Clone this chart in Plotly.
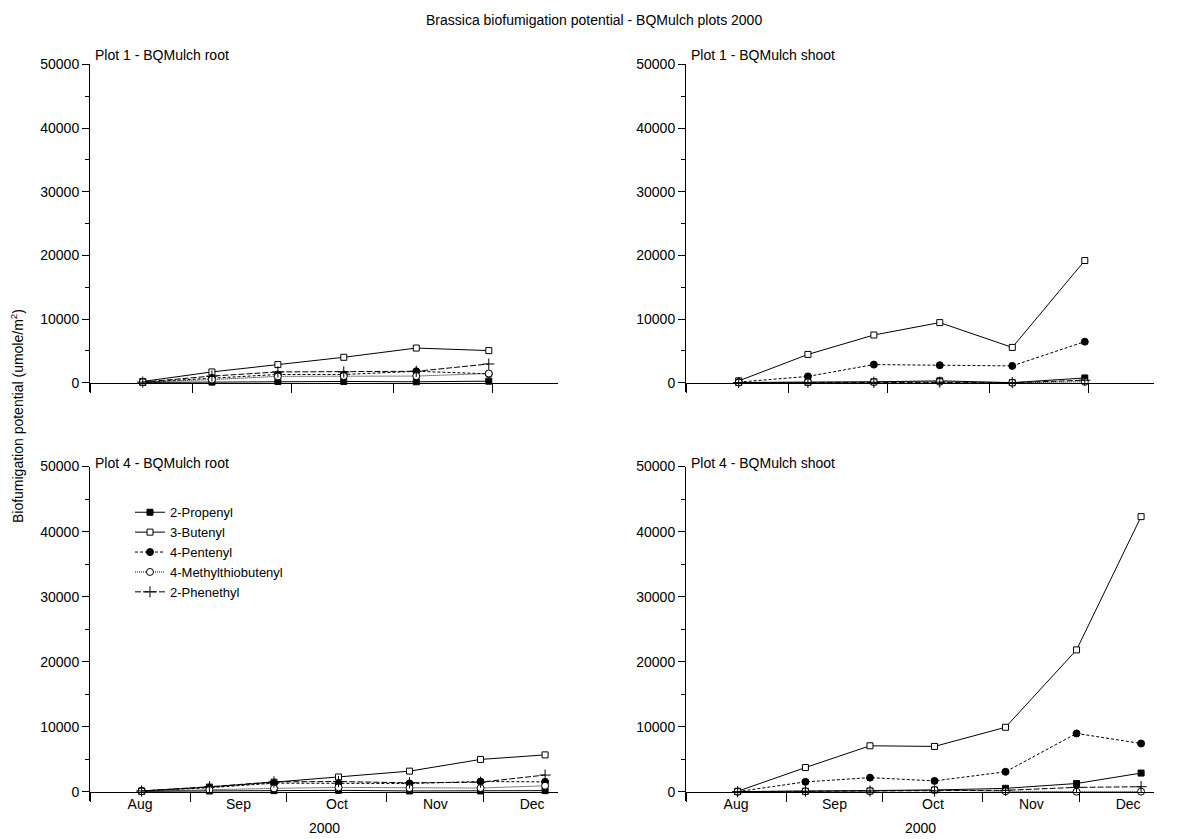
import plotly.graph_objects as go

# ---------------- data ----------------
series_names = ["2-Propenyl", "3-Butenyl", "4-Pentenyl", "4-Methylthiobutenyl", "2-Phenethyl"]

dates_top = ["2000-08-17", "2000-09-07", "2000-09-27", "2000-10-17", "2000-11-08", "2000-11-30"]
dates_bot = ["2000-08-17", "2000-09-07", "2000-09-27", "2000-10-17", "2000-11-08", "2000-11-30", "2000-12-20"]

# Plot 1 - BQMulch root
p1_root_propenyl = [50, 100, 200, 200, 150, 250]
p1_root_butenyl = [200, 1700, 2850, 4000, 5450, 5050]
p1_root_pentenyl = [100, 700, 1300, 1300, 1800, 1400]
p1_root_mtb = [100, 500, 1000, 1050, 1050, 1450]
p1_root_phenethyl = [100, 1050, 1700, 1700, 1800, 2950]

# Plot 1 - BQMulch shoot
p1_shoot_propenyl = [30, 60, 150, 300, 20, 750]
p1_shoot_butenyl = [300, 4450, 7500, 9450, 5550, 19200]
p1_shoot_pentenyl = [100, 1000, 2850, 2750, 2650, 6450]
p1_shoot_mtb = [50, 80, 100, 150, 0, 150]
p1_shoot_phenethyl = [30, 50, 80, 100, 20, 400]

# Plot 4 - BQMulch root
p4_root_propenyl = [50, 100, 150, 200, 100, 100, 150]
p4_root_butenyl = [100, 700, 1450, 2250, 3150, 4950, 5650]
p4_root_pentenyl = [100, 600, 1300, 1300, 1250, 1550, 1500]
p4_root_mtb = [50, 300, 500, 650, 550, 550, 900]
p4_root_phenethyl = [100, 750, 1500, 1550, 1350, 1450, 2550]

# Plot 4 - BQMulch shoot
p4_shoot_propenyl = [0, 50, 100, 250, 500, 1250, 2850]
p4_shoot_butenyl = [50, 3700, 7050, 6950, 9900, 21800, 42300]
p4_shoot_pentenyl = [0, 1500, 2150, 1650, 3050, 8950, 7400]
p4_shoot_mtb = [0, 50, 80, 250, 50, 0, 0]
p4_shoot_phenethyl = [0, 50, 100, 100, 200, 650, 750]

panel_titles = ["Plot 1 - BQMulch root", "Plot 1 - BQMulch shoot",
                "Plot 4 - BQMulch root", "Plot 4 - BQMulch shoot"]
y_tickvals = [0, 10000, 20000, 30000, 40000, 50000]
main_title = "Brassica biofumigation potential - BQMulch plots 2000"
y_title = "Biofumigation potential (umole/m<sup>2</sup>)"
x_title = "2000"

# ---------------- layout geometry ----------------
W, H = 1187, 839
FONT = "Liberation Sans, Arial, sans-serif"
Y_RANGE = [-1500, 50000]

dom_x_left = [90 / W, 558 / W]
dom_x_right = [686 / W, 1154 / W]
dom_y_top = [1 - 388 / H, 1 - 57 / H]
dom_y_bot = [1 - 801 / H, 1 - 463 / H]


def zero_pos(dom):
    return dom[0] + (0 - Y_RANGE[0]) / (Y_RANGE[1] - Y_RANGE[0]) * (dom[1] - dom[0])


styles = {
    "2-Propenyl": (dict(symbol="square", size=6, color="black", line=dict(color="black", width=1)), "solid"),
    "3-Butenyl": (dict(symbol="square", size=6, color="white", line=dict(color="black", width=1)), "solid"),
    "4-Pentenyl": (dict(symbol="circle", size=7, color="black", line=dict(color="black", width=1)), "3px,2px"),
    "4-Methylthiobutenyl": (dict(symbol="circle", size=7, color="white", line=dict(color="black", width=1)), "1px,1px"),
    "2-Phenethyl": (dict(symbol="cross-thin", size=8, color="black", line=dict(color="black", width=1)), "6px,2px"),
}

panels = [
    (dates_top, [p1_root_propenyl, p1_root_butenyl, p1_root_pentenyl, p1_root_mtb, p1_root_phenethyl], "x", "y", False),
    (dates_top, [p1_shoot_propenyl, p1_shoot_butenyl, p1_shoot_pentenyl, p1_shoot_mtb, p1_shoot_phenethyl], "x2", "y2", False),
    (dates_bot, [p4_root_propenyl, p4_root_butenyl, p4_root_pentenyl, p4_root_mtb, p4_root_phenethyl], "x3", "y3", True),
    (dates_bot, [p4_shoot_propenyl, p4_shoot_butenyl, p4_shoot_pentenyl, p4_shoot_mtb, p4_shoot_phenethyl], "x4", "y4", False),
]

fig = go.Figure()
for dates, vals, xa, ya, show in panels:
    for name, v in zip(series_names, vals):
        mk, dash = styles[name]
        fig.add_trace(go.Scatter(
            x=dates, y=v, mode="lines+markers", name=name, showlegend=show,
            xaxis=xa, yaxis=ya, marker=mk,
            line=dict(color="black", width=1, dash=dash),
        ))

axis_font = dict(family=FONT, size=14, color="black")


def xaxis_def(dom, ydom, rng, labels):
    return dict(
        domain=dom, anchor="free", position=zero_pos(ydom),
        type="date", range=rng, showgrid=False, zeroline=False,
        showline=True, linecolor="black", linewidth=1,
        ticks="outside", ticklen=9, tickwidth=1, tickcolor="black",
        dtick="M1", tick0="2000-08-01", tickformat="%b",
        ticklabelmode="period", showticklabels=labels,
        tickfont=axis_font, ticklabelstandoff=-9,
    )


def yaxis_def(dom, xref):
    return dict(
        domain=dom, anchor=xref, range=Y_RANGE, showgrid=False, zeroline=False,
        showline=True, linecolor="black", linewidth=1,
        ticks="outside", ticklen=7, tickwidth=1, tickcolor="black",
        tickvals=y_tickvals, tickformat="d", tickfont=axis_font,
        minor=dict(ticks="outside", ticklen=4, dtick=5000, tick0=0, tickcolor="black", showgrid=False),
    )


top_range = ["2000-08-01", "2000-12-21"]
bot_range = ["2000-08-01", "2000-12-24"]

fig.update_layout(
    width=W, height=H,
    paper_bgcolor="white", plot_bgcolor="white",
    margin=dict(l=0, r=0, t=0, b=0),
    font=dict(family=FONT, size=14, color="black"),
    xaxis=xaxis_def(dom_x_left, dom_y_top, top_range, False),
    xaxis2=xaxis_def(dom_x_right, dom_y_top, top_range, False),
    xaxis3=xaxis_def(dom_x_left, dom_y_bot, bot_range, True),
    xaxis4=xaxis_def(dom_x_right, dom_y_bot, bot_range, True),
    yaxis=yaxis_def(dom_y_top, "x"),
    yaxis2=yaxis_def(dom_y_top, "x2"),
    yaxis3=yaxis_def(dom_y_bot, "x3"),
    yaxis4=yaxis_def(dom_y_bot, "x4"),
    showlegend=True,
    legend=dict(x=130 / W, y=1 - 494 / H, xanchor="left", yanchor="top",
                bgcolor="rgba(0,0,0,0)", borderwidth=0,
                font=dict(family=FONT, size=13, color="black"), tracegroupgap=0),
)

ann = []
ann.append(dict(text=main_title, x=594 / W, y=1 - 12 / H, xref="paper", yref="paper",
                xanchor="center", yanchor="middle", showarrow=False, font=dict(size=14)))
title_pos = [(93, 47), (689, 47), (93, 459), (689, 459)]
for t, (px, py) in zip(panel_titles, title_pos):
    ann.append(dict(text=t, x=px / W, y=1 - py / H, xref="paper", yref="paper",
                    xanchor="left", yanchor="middle", showarrow=False, font=dict(size=14)))
ann.append(dict(text=y_title, x=17 / W, y=1 - 412 / H, xref="paper", yref="paper",
                xanchor="center", yanchor="middle", textangle=-90, showarrow=False, font=dict(size=14)))
for cx in (324, 920):
    ann.append(dict(text=x_title, x=cx / W, y=1 - 828 / H, xref="paper", yref="paper",
                    xanchor="center", yanchor="middle", showarrow=False, font=dict(size=14)))
fig.update_layout(annotations=ann)

fig.write_html("out.html")
